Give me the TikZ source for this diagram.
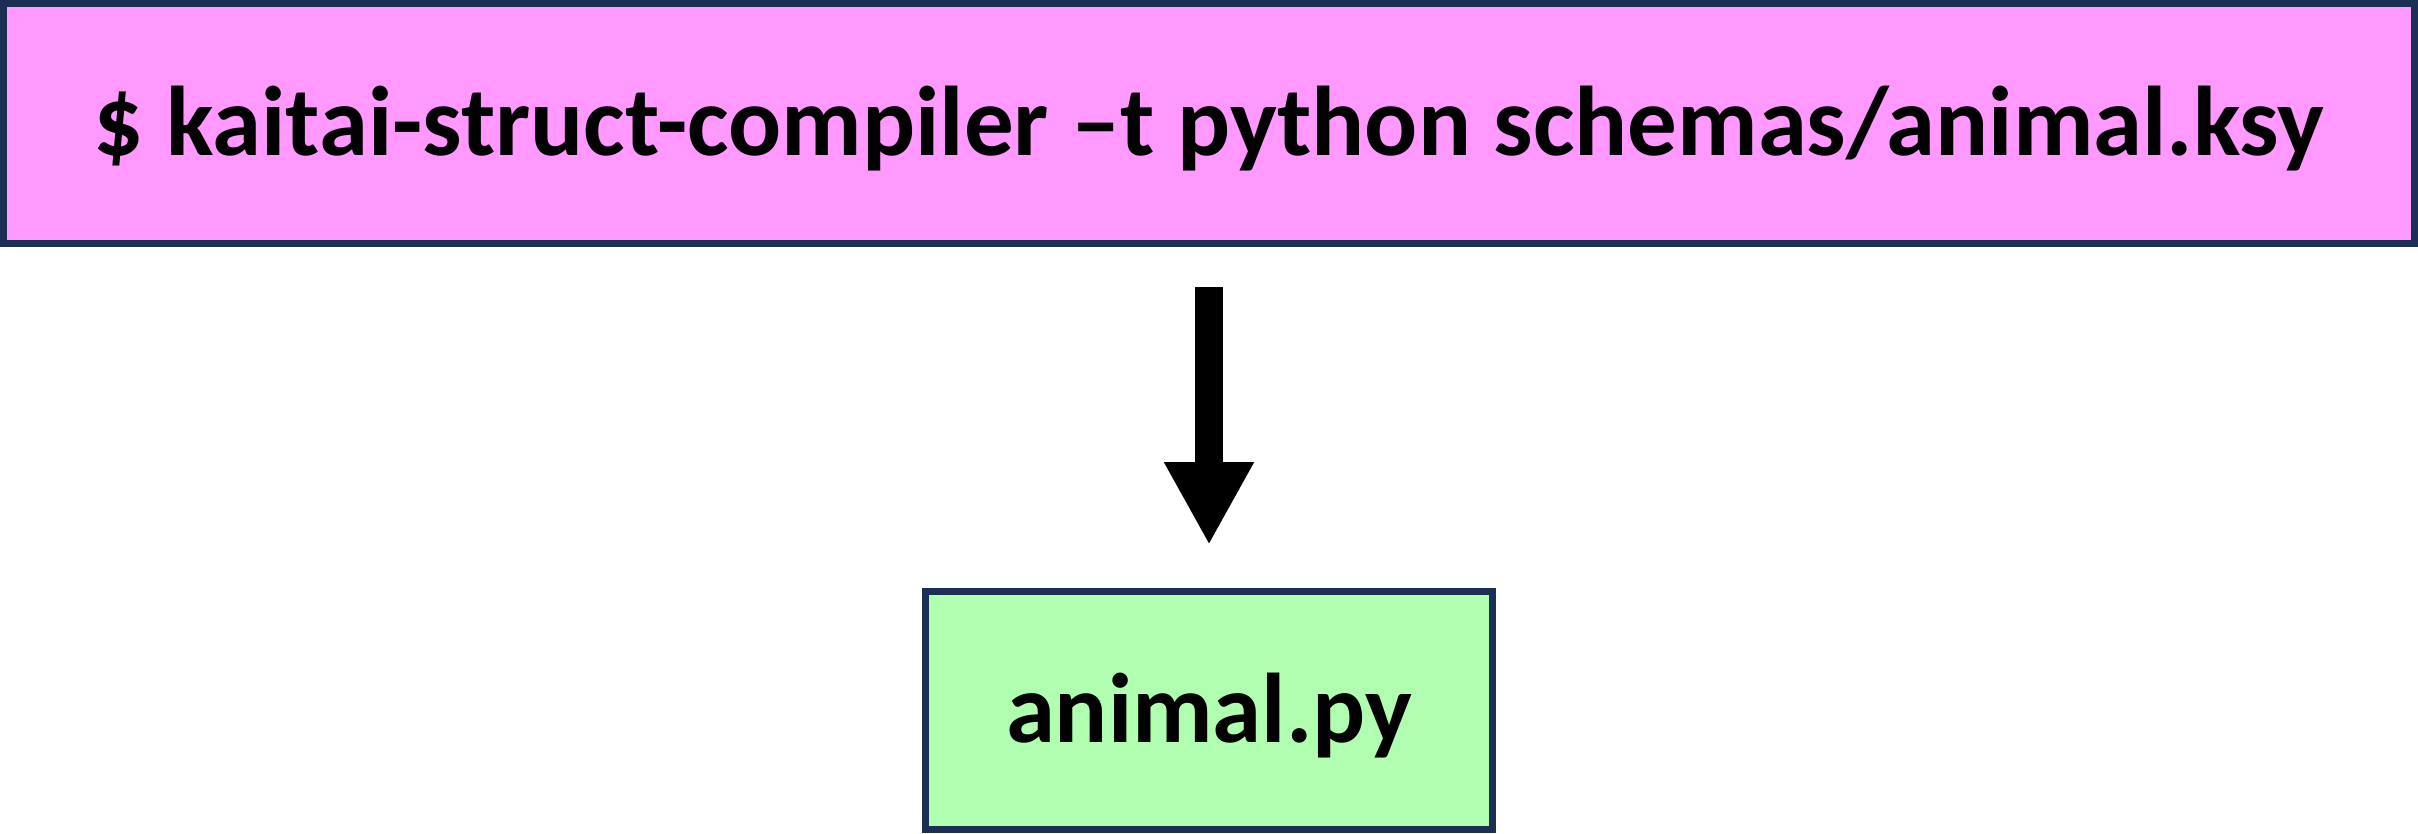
\documentclass[tikz,border=0pt]{standalone}
\usepackage{fontspec}
\setmainfont{Carlito}
\usepackage{tikz}
\usetikzlibrary{arrows.meta}
\definecolor{boxline}{RGB}{27,46,84}
\definecolor{cmdpink}{RGB}{255,153,255}
\definecolor{pygreen}{RGB}{176,255,176}

\begin{document}
\begin{tikzpicture}[x=0.5pt,y=0.5pt,yscale=-1,xscale=1,
    filebox/.style={draw=boxline, line width=3.5pt, inner sep=0pt, text depth=3pt, font=\fontsize{49.5}{59}\selectfont\bfseries}]
                    \useasboundingbox (0,0) rectangle (2418,834);
                    % Command Box
                    \node [filebox, fill=cmdpink, minimum width=1205.5pt, minimum height=120pt] (cmd) at (1209,123.5) {\$ kaitai-struct-compiler –t python schemas/animal.ksy};
                    % Output Box
                    \node [filebox, fill=pygreen, minimum width=283.5pt, minimum height=119pt] (pyfile) at (1209,710.5) {animal.py};

                    %Block Arrow
                    \draw [line width=14pt, shorten <=20pt, shorten >=21.5pt, -{Triangle[length=41.5pt, width=42pt]}] (cmd.south) -- (pyfile.north);
                \end{tikzpicture}
\end{document}
